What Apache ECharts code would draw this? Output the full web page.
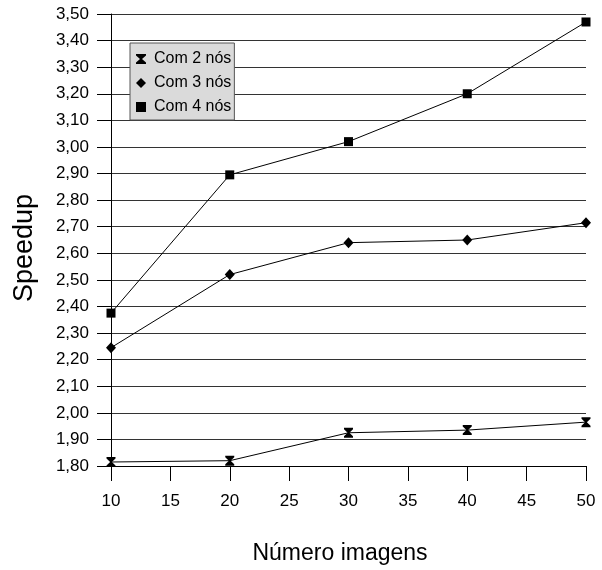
<!DOCTYPE html>
<html>
<head>
<meta charset="utf-8">
<script src="https://cdn.jsdelivr.net/npm/echarts@6/dist/echarts.min.js"></script>
<style>
  html, body { margin: 0; padding: 0; background: #fff; }
  #chart { width: 602px; height: 570px; }
</style>
</head>
<body>
<div id="chart"></div>
<script>
// eixo x: numero de imagens
const imagens = [10, 20, 30, 40, 50];
// speedup por numero de nos
const com2nos = [1.815, 1.82, 1.925, 1.935, 1.965];
const com3nos = [2.245, 2.52, 2.64, 2.65, 2.715];
const com4nos = [2.375, 2.895, 3.02, 3.20, 3.47];

const nomes = ['Com 2 nós', 'Com 3 nós', 'Com 4 nós'];
const ampulheta = 'path://M0,0 L10,0 L10,1.5 L6,5 L10,8.5 L10,10 L0,10 L0,8.5 L4,5 L0,1.5 Z';
const simbolos = [ampulheta, 'diamond', 'rect'];
const tamanhos = [[9, 10], [10, 11], [9, 9]];

const pares = (vals) => imagens.map((x, i) => [x, vals[i]]);

const myChart = echarts.init(document.getElementById('chart'));

const option = {
  animation: false,
  textStyle: { fontFamily: 'Liberation Sans, Arial, sans-serif', color: '#000' },
  grid: { left: 111, right: 16, top: 14, bottom: 103 },
  legend: {
    orient: 'vertical',
    left: 130,
    top: 43,
    padding: [8, 3, 5, 6],
    itemGap: 8,
    itemWidth: 10,
    itemHeight: 10,
    backgroundColor: '#dadada',
    borderColor: '#555',
    borderWidth: 1,
    borderRadius: 0,
    textStyle: { fontSize: 16, color: '#000', padding: [0, 0, 0, 3] },
    data: nomes.map((n, i) => ({ name: n, icon: simbolos[i], itemStyle: { color: '#000' } }))
  },
  xAxis: {
    type: 'value',
    min: 10,
    max: 50,
    interval: 5,
    name: 'Número imagens',
    nameLocation: 'middle',
    nameGap: 76,
    nameTextStyle: { fontSize: 23, color: '#000', padding: [0, 17, 0, 0] },
    axisLine: { onZero: false, lineStyle: { color: '#000', width: 1 } },
    axisTick: { show: true, length: 15, lineStyle: { color: '#000' } },
    axisLabel: { fontSize: 17, color: '#000', margin: 27 },
    splitLine: { show: false }
  },
  yAxis: {
    type: 'value',
    min: 1.8,
    max: 3.5,
    interval: 0.1,
    name: 'Speedup',
    nameLocation: 'middle',
    nameGap: 73,
    nameTextStyle: { fontSize: 27, color: '#000', padding: [0, 16, 0, 0] },
    axisLine: { show: true, lineStyle: { color: '#000', width: 1 } },
    axisTick: { show: true, length: 14, lineStyle: { color: '#000' } },
    axisLabel: {
      fontSize: 17,
      color: '#000',
      margin: 22,
      formatter: (v) => v.toFixed(2).replace('.', ',')
    },
    splitLine: { show: true, lineStyle: { color: '#333', width: 1 } }
  },
  series: [com2nos, com3nos, com4nos].map((vals, i) => ({
    name: nomes[i],
    type: 'line',
    data: pares(vals),
    symbol: simbolos[i],
    symbolSize: tamanhos[i],
    showSymbol: true,
    lineStyle: { color: '#000', width: 1 },
    itemStyle: { color: '#000' },
    z: 3 + i
  }))
};

option && myChart.setOption(option);
</script>
</body>
</html>
